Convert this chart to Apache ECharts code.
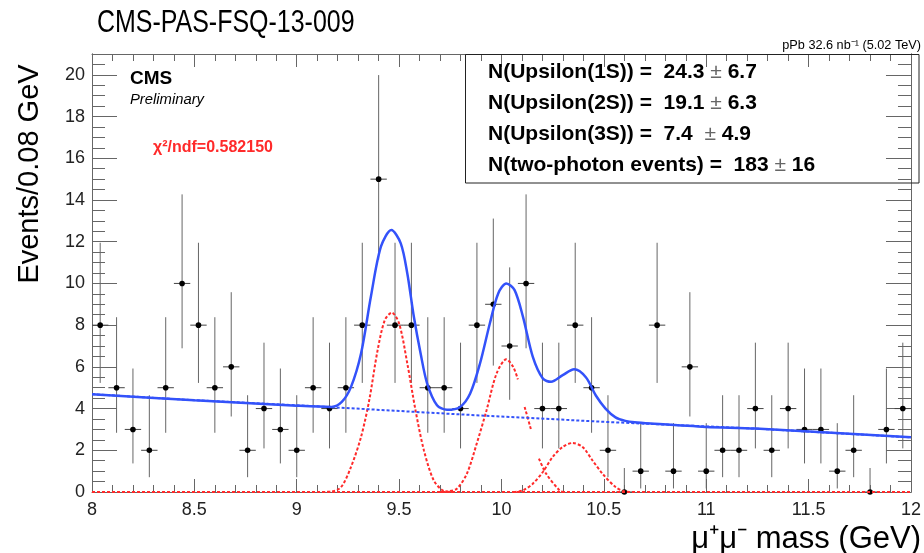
<!DOCTYPE html>
<html>
<head>
<meta charset="utf-8">
<script src="https://cdn.jsdelivr.net/npm/echarts@6/dist/echarts.min.js"></script>
<style>
html,body{margin:0;padding:0;background:#fff;}
#c{width:924px;height:553px;}
</style>
</head>
<body>
<div id="c"></div>
<script>
// ---- data ----
const binCenters = [8.04,8.12,8.20,8.28,8.36,8.44,8.52,8.60,8.68,8.76,8.84,8.92,9.00,9.08,9.16,9.24,9.32,9.40,9.48,9.56,9.64,9.72,9.80,9.88,9.96,10.04,10.12,10.20,10.28,10.36,10.44,10.52,10.60,10.68,10.76,10.84,10.92,11.00,11.08,11.16,11.24,11.32,11.40,11.48,11.56,11.64,11.72,11.80,11.88,11.96];
const counts = [8,5,3,2,5,10,8,5,6,2,4,3,2,5,4,5,8,15,8,8,5,5,4,8,9,7,10,4,4,8,5,2,0,1,8,1,6,1,2,2,4,2,4,3,3,1,2,0,3,4];
const binHalfWidth = 0.04;
// error bar ends, per count
const errCount = [0,1,2,3,4,5,6,7,8,9,10,15];
const errLow   = [0,0.17,0.71,1.37,2.09,2.84,3.62,4.42,5.23,6.06,6.89,11.13];
const errHigh  = [1.15,3.30,4.64,5.92,7.16,8.38,9.58,10.77,11.95,13.11,14.27,19.99];

const totalX = [8.0,8.5,9.0,9.17,9.22,9.265,9.314,9.362,9.411,9.462,9.508,9.54,9.572,9.605,9.637,9.685,9.734,9.798,9.847,9.895,9.943,9.984,10.024,10.064,10.105,10.153,10.202,10.242,10.299,10.355,10.412,10.46,10.508,10.557,10.605,10.65,10.73,11.0,11.24,12.0];
const totalY = [4.69,4.40,4.14,4.08,4.32,5.04,6.64,9.36,11.76,12.56,11.92,10.48,8.40,6.64,5.20,4.16,3.94,4.08,4.72,6.16,8.08,9.52,10.0,9.68,8.40,6.48,5.44,5.28,5.60,5.88,5.50,4.64,4.00,3.58,3.41,3.34,3.28,3.12,3.04,2.62];
const bgX = [8.0,8.5,9.0,9.78,10.51,11.24,12.0];
const bgY = [4.69,4.40,4.16,3.73,3.36,3.04,2.62];
const ups1X = [9.10,9.169,9.217,9.265,9.314,9.354,9.395,9.430,9.464,9.500,9.540,9.580,9.621,9.669,9.718,9.76];
const ups1Y = [0,0.02,0.24,1.2,2.64,4.40,6.80,8.24,8.60,8.08,6.16,3.92,2.00,0.56,0.05,0];
const ups2X = [9.70,9.734,9.782,9.831,9.879,9.927,9.976,10.024,10.057,10.080,10.098,10.113,10.145,10.162,10.183,10.218,10.283,10.30];
const ups2Y = [0,0.02,0.16,0.88,2.32,3.92,5.68,6.36,6.00,5.40,null,4.08,2.96,null,1.60,0.88,0.08,0];
const ups3X = [10.06,10.105,10.153,10.202,10.250,10.299,10.347,10.396,10.444,10.493,10.557,10.605,10.65];
const ups3Y = [0,0.08,0.40,0.96,1.68,2.16,2.35,2.16,1.52,0.88,0.24,0.02,0];
const xTicksMin = 8, xTicksMax = 12;
const legendNames = ['N(Upsilon(1S)) =  ','N(Upsilon(2S)) =  ','N(Upsilon(3S)) =  ','N(two-photon events) =  '];
const legendVals  = ['24.3 ','19.1 ','7.4  ','183 '];
const legendErrs  = [' 6.7',' 6.3',' 4.9',' 16'];

// ---- build ----
const zip = (a,b) => a.map((v,i)=>[v,b[i]]);
const pts = binCenters.map((x,i)=>{
  const k = errCount.indexOf(counts[i]);
  return [x, counts[i], errLow[k], errHigh[k]];
});
const FONT = '"Liberation Sans", Arial, Helvetica, sans-serif';
const BLUE = '#3352fa', RED = '#ff2a2a', FRAME = '#666';

const chart = echarts.init(document.getElementById('c'), null, {renderer:'canvas'});

function xAx(pos, showLabel){
  return {type:'value', position:pos, min:xTicksMin, max:xTicksMax, interval:0.5,
    axisLine:{show:true, onZero:false, lineStyle:{color:FRAME,width:1}},
    axisTick:{show:true, inside:true, length:13, lineStyle:{color:FRAME}},
    minorTick:{show:true, splitNumber:5, length:7, lineStyle:{color:FRAME}},
    splitLine:{show:false}, minorSplitLine:{show:false},
    axisLabel:{show:showLabel, fontSize:18, color:'#222', fontFamily:FONT, margin:9}};
}
function yAx(pos, interval, len, showLabel){
  return {type:'value', position:pos, min:0, max:21, interval:interval,
    axisLine:{show:true, onZero:false, lineStyle:{color:FRAME,width:1}},
    axisTick:{show:true, inside:true, length:len, lineStyle:{color:FRAME}},
    splitLine:{show:false},
    axisLabel:{show:showLabel, fontSize:18, color:'#222', fontFamily:FONT, margin:7,
      formatter:(v)=> (v%2===0 ? String(v) : '')}};
}

const legendGraphics = legendNames.map((n,i)=>({
  type:'text', x:488, y:72 + i*31, z:10,
  style:{text:'{a|'+n+legendVals[i]+'}{p|\u00b1}{a|'+legendErrs[i]+'}',
    textVerticalAlign:'middle',
    rich:{a:{fontSize:21, fontWeight:'bold', fontFamily:FONT, fill:'#000', color:'#000'},
          p:{fontSize:21, fontFamily:FONT, color:'#666', fill:'#666'}}}
}));

const option = {
  animation:false,
  backgroundColor:'#fff',
  grid:{left:92, top:54, width:827, height:438, show:false},
  xAxis:[xAx('bottom',true), xAx('top',false)],
  yAxis:[yAx('left',2,25,true), yAx('left',0.5,13,false), yAx('right',2,25,false), yAx('right',0.5,13,false)],
  series:[
    {type:'custom', xAxisIndex:0, yAxisIndex:0, data:pts, z:3,
      renderItem:(params, api)=>{
        const x=api.value(0), y=api.value(1), lo=api.value(2), hi=api.value(3);
        const c=api.coord([x,y]), pl=api.coord([x,lo]), ph=api.coord([x,hi]);
        const l=api.coord([x-binHalfWidth,y]), r=api.coord([x+binHalfWidth,y]);
        return {type:'group', children:[
          {type:'line', shape:{x1:c[0],y1:ph[1],x2:c[0],y2:pl[1]}, style:{stroke:'#666',lineWidth:1}},
          {type:'line', shape:{x1:l[0],y1:c[1],x2:r[0],y2:c[1]}, style:{stroke:'#444',lineWidth:1}},
          {type:'circle', shape:{cx:c[0],cy:c[1],r:2.8}, style:{fill:'#000'}}
        ]};
      }},
    {type:'line', data:[[xTicksMin,0],[xTicksMax,0]], showSymbol:false, z:4,
      lineStyle:{color:RED,width:2,type:[3,2]}},
    {type:'line', data:zip(ups1X,ups1Y), showSymbol:false, smooth:0.3, z:4,
      lineStyle:{color:RED,width:2,type:[3,2]}},
    {type:'line', data:zip(ups2X,ups2Y), showSymbol:false, smooth:0.3, connectNulls:false, z:4,
      lineStyle:{color:RED,width:2,type:[3,2]}},
    {type:'line', data:zip(ups3X,ups3Y), showSymbol:false, smooth:0.3, z:4,
      lineStyle:{color:RED,width:2,type:[3,2]}},
    {type:'line', data:zip(bgX,bgY), showSymbol:false, z:5,
      lineStyle:{color:BLUE,width:2,type:[3,2]}},
    {type:'line', data:zip(totalX,totalY), showSymbol:false, smooth:0.3, z:6,
      lineStyle:{color:BLUE,width:2.5}}
  ],
  graphic:[
    {type:'text', x:97, y:23, scaleX:0.78, style:{text:'CMS-PAS-FSQ-13-009', font:'32px '+FONT, fill:'#000', textVerticalAlign:'middle'}},
    {type:'text', x:921, y:45, style:{text:'pPb 32.6 nb\u207b\u00b9 (5.02 TeV)', font:'12.7px '+FONT, fill:'#000', textAlign:'right', textVerticalAlign:'middle'}},
    {type:'text', x:30, y:174, rotation:Math.PI/2, style:{text:'Events/0.08 GeV', font:'29px '+FONT, fill:'#000', textAlign:'center', textVerticalAlign:'middle'}},
    {type:'text', x:921, y:539, style:{text:'\u03bc\u207a\u03bc\u207b mass (GeV)', font:'31px '+FONT, fill:'#000', textAlign:'right', textVerticalAlign:'middle'}},
    {type:'text', x:130, y:79, style:{text:'CMS', font:'bold 19px '+FONT, fill:'#000', textVerticalAlign:'middle'}},
    {type:'text', x:130, y:100, style:{text:'Preliminary', font:'italic 14.8px '+FONT, fill:'#000', textVerticalAlign:'middle'}},
    {type:'text', x:153, y:148, style:{text:'\u03c7\u00b2/ndf=0.582150', font:'bold 16px '+FONT, fill:RED, textVerticalAlign:'middle'}},
    {type:'rect', shape:{x:465.5, y:54.5, width:453.5, height:128.5}, style:{fill:'none', stroke:'#222', lineWidth:1}, z:10}
  ].concat(legendGraphics)
};
chart.setOption(option);
</script>
</body>
</html>
